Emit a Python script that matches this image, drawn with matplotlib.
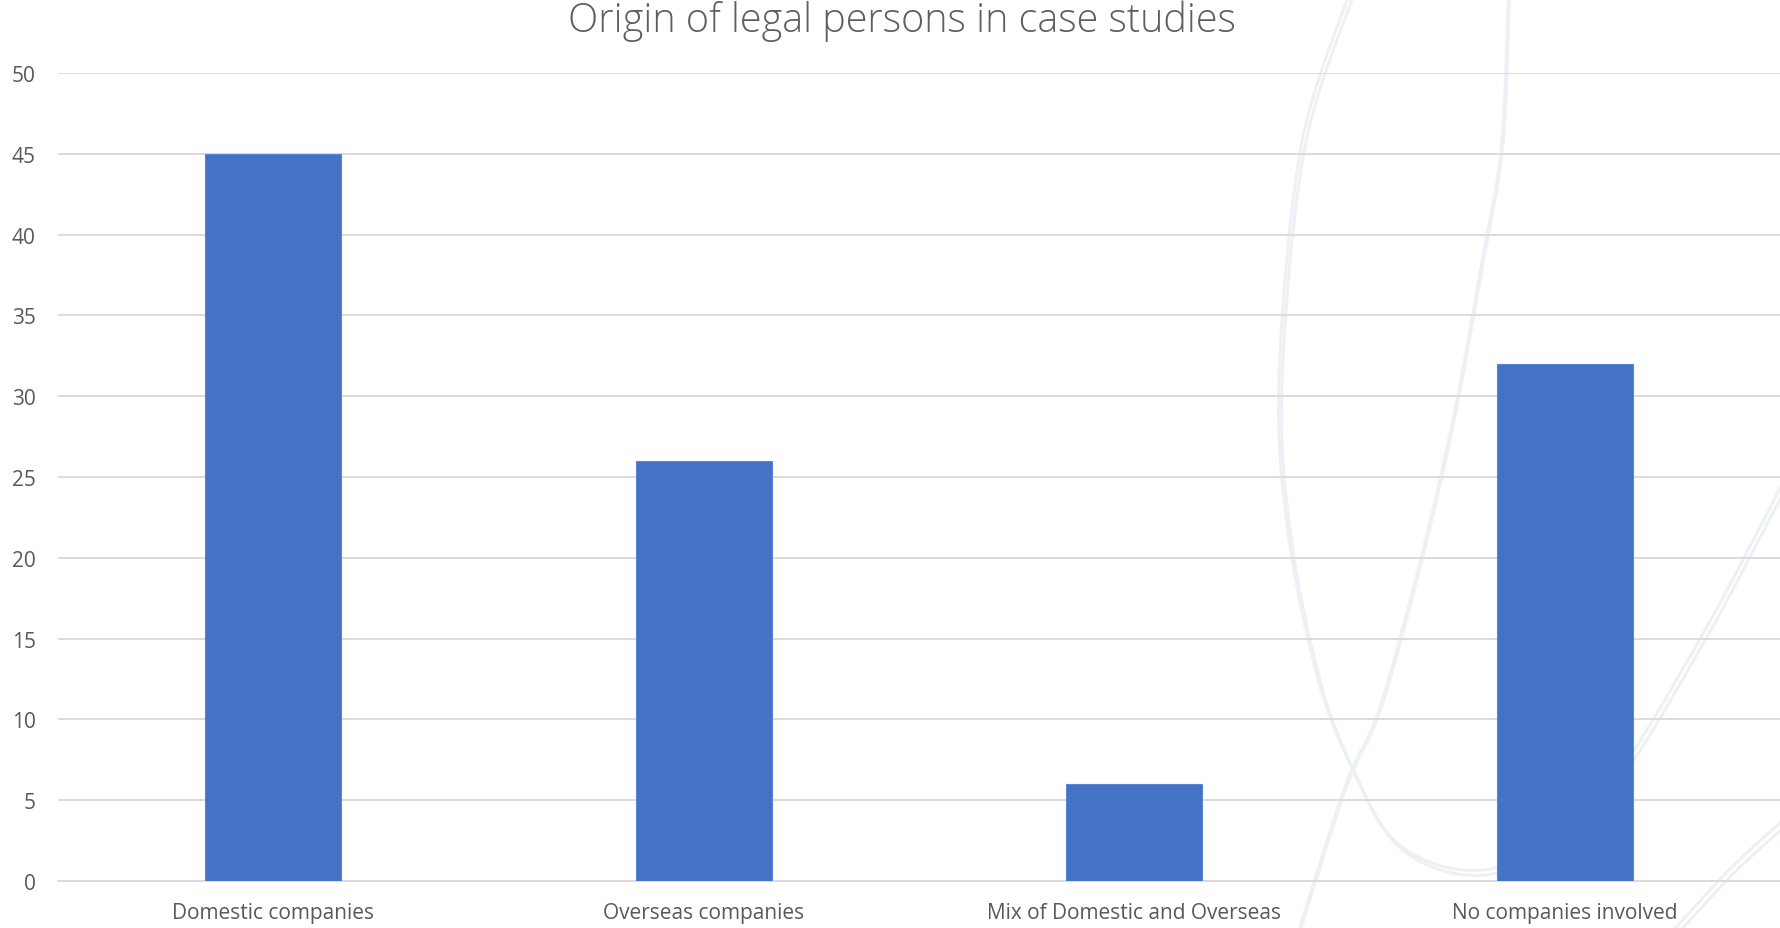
import numpy as np
import matplotlib
matplotlib.use("Agg")
import matplotlib.pyplot as plt
from matplotlib.path import Path
from matplotlib.patches import PathPatch

# chart data
categories = ["Domestic companies", "Overseas companies",
              "Mix of Domestic and Overseas", "No companies involved"]
counts = [45, 26, 6, 32]
yticks = [0, 5, 10, 15, 20, 25, 30, 35, 40, 45, 50]

W, H = 1780, 929
fig = plt.figure(figsize=(W / 100, H / 100), dpi=100)
fig.patch.set_facecolor("white")


def smooth_path(pts):
    # catmull-rom -> cubic bezier, points given in pixel coords (top-left origin)
    pts = np.array([(x / W, 1 - y / H) for x, y in pts])
    verts = [pts[0]]
    codes = [Path.MOVETO]
    for i in range(len(pts) - 1):
        p0 = pts[i - 1] if i > 0 else pts[i]
        p1, p2 = pts[i], pts[i + 1]
        p3 = pts[i + 2] if i + 2 < len(pts) else pts[i + 1]
        verts += [p1 + (p2 - p0) / 6, p2 - (p3 - p1) / 6, p2]
        codes += [Path.CURVE4] * 3
    return Path(verts, codes)


# faint decorative watermark curves in background
wm = "#edf1f5"
curves = [
    ([(1349, -5), (1301, 148), (1279, 379), (1288, 533), (1318, 680),
      (1352, 769), (1393, 840), (1455, 870), (1520, 860), (1600, 800),
      (1700, 640), (1790, 470)], 2),
    ([(1509, -5), (1502, 148), (1482, 266), (1455, 414), (1421, 562),
      (1380, 710), (1346, 787), (1300, 930)], 1),
    ([(1670, 935), (1730, 870), (1790, 815)], 2),
]
for c, n in curves:
    for k in range(n):
        off = k * 5
        shifted = [(x + off * 0.6, y + off) for x, y in c]
        fig.patches.append(PathPatch(smooth_path(shifted), transform=fig.transFigure,
                                     fill=False, edgecolor=wm,
                                     lw=3.2 if n == 1 else 2.2, zorder=-1))

ax = fig.add_axes([58 / W, 1 - 882 / H, 1 - 58 / W, (882 - 74) / H])
ax.patch.set_alpha(0)
ax.set_zorder(1)

x = np.arange(len(categories))
ax.bar(x, counts, width=0.316, color="#4472c4", edgecolor="#5b86d6",
       linewidth=0.8, zorder=3)

ax.set_xlim(-0.5, len(categories) - 0.5)
ax.set_ylim(0, 50)
ax.set_yticks(yticks)
ax.set_xticks(x)
ax.set_xticklabels(categories, fontsize=15, color="#595959", family="Open Sans")
for lab in ax.get_yticklabels():
    lab.set_fontsize(15)
    lab.set_color("#595959")
    lab.set_family("Open Sans")
ax.tick_params(axis="both", length=0)
ax.tick_params(axis="y", pad=16)
ax.tick_params(axis="x", pad=15)
ax.grid(axis="y", color="#d9d9d9", linewidth=1.3, zorder=1)
ax.set_axisbelow(True)
for s in ["top", "right", "left"]:
    ax.spines[s].set_visible(False)
ax.spines["bottom"].set_color("#d9d9d9")
ax.spines["bottom"].set_linewidth(1.3)

fig.text(902 / W, 1 - 21 / H, "Origin of legal persons in case studies",
         ha="center", va="center", fontsize=28.5, color="#5f5f5f",
         family="Open Sans", fontweight="light")

fig.savefig("out.png", dpi=100)
